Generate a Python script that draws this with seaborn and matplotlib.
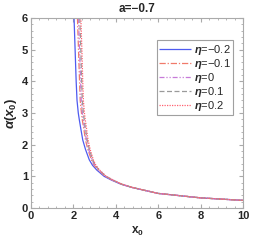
import numpy as np
import pandas as pd
import matplotlib
matplotlib.use("Agg")
import matplotlib.pyplot as plt
import seaborn as sns
from matplotlib.ticker import MultipleLocator

# values
alpha_levels = [6, 5, 4, 3.4, 3, 2.78, 2.5, 2.15, 1.85, 1.52, 1.35, 1.2, 1.0, 0.88, 0.75, 0.65, 0.55, 0.46, 0.39, 0.32, 0.28, 0.24]
x_eta_m02 = [2.03, 2.08, 2.13, 2.17, 2.23, 2.28, 2.35, 2.44, 2.57, 2.75, 2.90, 3.10, 3.45, 3.80, 4.25, 4.75, 5.40, 6, 7, 8, 9, 10]
x_eta_m01 = [2.19, 2.24, 2.29, 2.32, 2.38, 2.42, 2.49, 2.57, 2.68, 2.85, 2.98, 3.17, 3.50, 3.84, 4.28, 4.77, 5.41, 6, 7, 8, 9, 10]
x_eta_0 = [2.24, 2.29, 2.34, 2.37, 2.42, 2.47, 2.53, 2.61, 2.72, 2.88, 3.01, 3.19, 3.52, 3.85, 4.28, 4.77, 5.41, 6, 7, 8, 9, 10]
x_eta_p01 = [2.30, 2.35, 2.39, 2.42, 2.47, 2.51, 2.57, 2.65, 2.75, 2.91, 3.03, 3.21, 3.53, 3.87, 4.29, 4.78, 5.42, 6, 7, 8, 9, 10]
x_eta_p02 = [2.35, 2.40, 2.44, 2.47, 2.52, 2.56, 2.62, 2.69, 2.79, 2.94, 3.06, 3.23, 3.55, 3.88, 4.30, 4.78, 5.42, 6, 7, 8, 9, 10]
labels = [r"$\mathit{η}$=−0.2", r"$\mathit{η}$=−0.1", r"$\mathit{η}$=0",
          r"$\mathit{η}$=0.1", r"$\mathit{η}$=0.2"]

sns.set_style("ticks")
plt.rcParams["font.family"] = ["Liberation Sans", "DejaVu Sans"]
plt.rcParams["font.weight"] = "bold"
plt.rcParams["mathtext.fontset"] = "custom"
plt.rcParams["mathtext.bf"] = "Liberation Sans:bold"
plt.rcParams["mathtext.it"] = "Liberation Sans:italic"
plt.rcParams["mathtext.rm"] = "Liberation Sans"

fig = plt.figure(figsize=(2.73, 2.46), dpi=100)
ax = fig.add_axes([0.1136, 0.1545, 0.7765, 0.7723])

styles = [
    ("#4f5bf0", (0, ()), 0.9),
    ("#f07a6a", (0, (5, 1.5, 1, 1.5)), 0.9),
    ("#c77ad8", (0, (4, 1.5, 1, 1.5, 1, 1.5)), 0.9),
    ("#9a9a9a", (0, (4, 2)), 0.9),
    ("#ff6070", (0, (1, 1)), 0.9),
]
series = [x_eta_m02, x_eta_m01, x_eta_0, x_eta_p01, x_eta_p02]
for xs, lab, (c, ls, lw) in zip(series, labels, styles):
    df = pd.DataFrame({"x0": xs, "alpha": alpha_levels})
    sns.lineplot(data=df, x="x0", y="alpha", ax=ax, color=c, linestyle=ls,
                 linewidth=lw, label=lab, estimator=None, sort=False)

ax.set_xlim(0, 10)
ax.set_ylim(0, 6)
ax.xaxis.set_major_locator(MultipleLocator(2))
ax.xaxis.set_minor_locator(MultipleLocator(0.4))
ax.yaxis.set_major_locator(MultipleLocator(1))
ax.yaxis.set_minor_locator(MultipleLocator(0.2))
ax.tick_params(which="both", direction="in", top=True, right=True, color="#aaaaaa",
               labelsize=8, pad=2)
ax.tick_params(which="major", length=3)
ax.tick_params(which="minor", length=1.5)
for s in ax.spines.values():
    s.set_color("#aaaaaa")
    s.set_linewidth(0.8)

ax.set_xlabel(r"$\mathbf{x_0}$", fontsize=8.5, labelpad=3)
ax.set_ylabel(r"$\mathbf{\mathit{α}(\mathit{x}_0)}$", fontsize=9.5, labelpad=2)
ax.set_title("a=−0.7", fontsize=8.5, fontweight="bold", pad=4)

leg = ax.legend(loc="upper right", bbox_to_anchor=(0.955, 0.885),
                prop={"size": 8, "weight": "normal"},
                frameon=True, fancybox=False, handlelength=2.8, handletextpad=0.3,
                labelspacing=0.0, borderpad=0.25, borderaxespad=0)
leg.get_frame().set_edgecolor("#888888")
leg.get_frame().set_linewidth(0.8)

fig.savefig("out.png", dpi=100)
